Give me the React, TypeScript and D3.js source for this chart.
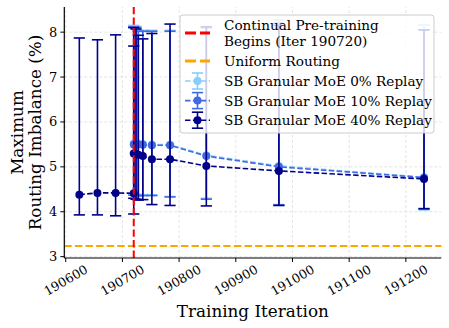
import React from "react";
import * as d3 from "d3";

// iterations before continual pre-training starts (40% run history)
const preIters = [190624, 190656, 190688, 190720];
const preMean = [4.38, 4.42, 4.42, 4.41];
const preLow = [3.93, 3.93, 3.91, 3.95];
const preHigh = [7.87, 7.83, 7.94, 7.69];

// iterations after continual pre-training starts
const cptIters = [190720, 190724, 190728, 190736, 190752, 190784, 190848, 190976, 191232];

const replay0Mean = [5.52, 5.52, 5.52, 5.51, 5.5, 5.49, 5.26, 5.02, 4.77];
const replay0Low = [4.4, 4.39, 4.38, 4.38, 4.38, 4.34, 4.3, 4.16, 4.04];
const replay0High = [8.15, 8.13, 8.04, 8.04, 8.04, 8.04, 8.12, 8.27, 8.16];

const replay10Mean = [5.5, 5.5, 5.5, 5.49, 5.48, 5.48, 5.24, 5.0, 4.76];
const replay10Low = [4.37, 4.36, 4.36, 4.36, 4.36, 4.33, 4.28, 4.15, 4.06];
const replay10High = [8.12, 8.1, 8.02, 8.02, 8.02, 8.02, 8.1, 8.2, 8.05];

const replay40Mean = [5.3, 5.29, 5.27, 5.24, 5.17, 5.17, 5.02, 4.91, 4.73];
const replay40Low = [4.3, 4.28, 4.26, 4.27, 4.16, 4.14, 4.13, 4.14, 4.07];
const replay40High = [8.1, 8.07, 7.93, 7.85, 7.97, 8.18, 8.12, 8.15, 8.05];

const cptStart = 190720;
const uniformRouting = 3.24;

const xTicks = [190600, 190700, 190800, 190900, 191000, 191100, 191200];
const yTicks = [3, 4, 5, 6, 7, 8];

const seriesLabels = [
  "SB Granular MoE 0% Replay",
  "SB Granular MoE 10% Replay",
  "SB Granular MoE 40% Replay",
];
const colors = ["#87cefa", "#4169e1", "#00008b"];

const W = 449;
const H = 328;
const font = "DejaVu Serif";

const x = d3.scaleLinear().domain([190597.5, 191262.5]).range([64.3, 441.3]);
const y = d3.scaleLinear().domain([2.97, 8.56]).range([258, 7]);

type Pt = { it: number; m: number; lo: number; hi: number };

const zip = (its: number[], m: number[], lo: number[], hi: number[]): Pt[] =>
  its.map((it, i) => ({ it, m: m[i], lo: lo[i], hi: hi[i] }));

const series = [
  zip(cptIters, replay0Mean, replay0Low, replay0High),
  zip(cptIters, replay10Mean, replay10Low, replay10High),
  zip(cptIters, replay40Mean, replay40Low, replay40High),
];
const prePts = zip(preIters, preMean, preLow, preHigh);

const line = d3
  .line<Pt>()
  .x((d) => x(d.it))
  .y((d) => y(d.m));

const CAP = 5.6;

const ErrSeries = ({ pts, color }: { pts: Pt[]; color: string }) => (
  <g>
    {pts.map((d, i) => (
      <g key={i} stroke={color} strokeWidth={1.6}>
        <line x1={x(d.it)} x2={x(d.it)} y1={y(d.lo)} y2={y(d.hi)} />
        <line x1={x(d.it) - CAP} x2={x(d.it) + CAP} y1={y(d.lo)} y2={y(d.lo)} />
        <line x1={x(d.it) - CAP} x2={x(d.it) + CAP} y1={y(d.hi)} y2={y(d.hi)} />
      </g>
    ))}
    <path d={line(pts) ?? ""} fill="none" stroke={color} strokeWidth={1.6} strokeDasharray="5.5,2.4" />
    {pts.map((d, i) => (
      <circle key={i} cx={x(d.it)} cy={y(d.m)} r={4} fill={color} />
    ))}
  </g>
);

const App = () => {
  const [x0, x1] = x.range();
  const [yb, yt] = y.range();
  const lx = 185;
  const lw = 25;
  const tx = 224;
  return (
    <svg width={W} height={H} style={{ position: "absolute", left: 0, top: 0 }} fontFamily={font}>
      <rect width={W} height={H} fill="white" />
      {/* grid */}
      {xTicks.map((t) => (
        <line key={t} x1={x(t)} x2={x(t)} y1={yb} y2={yt} stroke="#dddddd" strokeWidth={0.8} strokeDasharray="3,2" />
      ))}
      {yTicks.map((t) => (
        <line key={t} x1={x0} x2={x1} y1={y(t)} y2={y(t)} stroke="#dddddd" strokeWidth={0.8} strokeDasharray="3,2" />
      ))}
      {/* uniform routing */}
      <line x1={x0} x2={x1} y1={y(uniformRouting)} y2={y(uniformRouting)} stroke="orange" strokeWidth={2} strokeDasharray="7.4,3.2" />
      {series.map((pts, i) => (
        <ErrSeries key={i} pts={pts} color={colors[i]} />
      ))}
      <ErrSeries pts={prePts} color={colors[2]} />
      {/* CPT start */}
      <line x1={x(cptStart)} x2={x(cptStart)} y1={yb} y2={yt} stroke="red" strokeWidth={2} strokeDasharray="7.4,3.2" />
      {/* axes */}
      <line x1={x0} x2={x0} y1={yb} y2={yt} stroke="black" strokeWidth={1.2} />
      <line x1={x0} x2={x1} y1={yb} y2={yb} stroke="black" strokeWidth={1.2} />
      {yTicks.map((t) => (
        <g key={t}>
          <line x1={x0 - 4} x2={x0} y1={y(t)} y2={y(t)} stroke="black" strokeWidth={1} />
          <text x={x0 - 7} y={y(t)} textAnchor="end" dominantBaseline="central" fontSize={13}>
            {t}
          </text>
        </g>
      ))}
      {xTicks.map((t) => (
        <g key={t}>
          <line x1={x(t)} x2={x(t)} y1={yb} y2={yb + 4} stroke="black" strokeWidth={1} />
          <text
            x={x(t)}
            y={280}
            textAnchor="middle"
            dominantBaseline="central"
            fontSize={12.6}
            transform={`rotate(-30, ${x(t)}, 280)`}
          >
            {t}
          </text>
        </g>
      ))}
      <text x={(x0 + x1) / 2} y={311} textAnchor="middle" dominantBaseline="central" fontSize={16.8}>
        Training Iteration
      </text>
      <g transform={`translate(26, ${(yb + yt) / 2}) rotate(-90)`}>
        <text x={0} y={-9} textAnchor="middle" dominantBaseline="central" fontSize={16.8}>
          Maximum
        </text>
        <text x={0} y={9} textAnchor="middle" dominantBaseline="central" fontSize={16.8}>
          Routing Imbalance (%)
        </text>
      </g>
      {/* legend */}
      <rect x={180} y={15} width={254} height={118} rx={3} fill="white" fillOpacity={0.8} stroke="#cccccc" strokeWidth={1} />
      <line x1={lx} x2={lx + lw} y1={33} y2={33} stroke="red" strokeWidth={3} strokeDasharray="11,4" />
      <text x={tx} y={25} dominantBaseline="central" fontSize={13.6}>
        Continual Pre-training
      </text>
      <text x={tx} y={41} dominantBaseline="central" fontSize={13.6}>
        Begins (Iter 190720)
      </text>
      <line x1={lx} x2={lx + lw} y1={61} y2={61} stroke="orange" strokeWidth={3} strokeDasharray="11,4" />
      <text x={tx} y={61} dominantBaseline="central" fontSize={13.6}>
        Uniform Routing
      </text>
      {seriesLabels.map((s, i) => {
        const cy = 81 + i * 19.6;
        const cx = lx + lw / 2;
        return (
          <g key={s}>
            <g stroke={colors[i]} strokeWidth={1.6}>
              <line x1={lx} x2={lx + lw} y1={cy} y2={cy} strokeDasharray="5.5,2.4" />
              <line x1={cx} x2={cx} y1={cy - 8} y2={cy + 8} />
              <line x1={cx - CAP} x2={cx + CAP} y1={cy - 8} y2={cy - 8} />
              <line x1={cx - CAP} x2={cx + CAP} y1={cy + 8} y2={cy + 8} />
            </g>
            <circle cx={cx} cy={cy} r={4} fill={colors[i]} />
            <text x={tx} y={cy} dominantBaseline="central" fontSize={13.6}>
              {s}
            </text>
          </g>
        );
      })}
    </svg>
  );
};

export default App;
